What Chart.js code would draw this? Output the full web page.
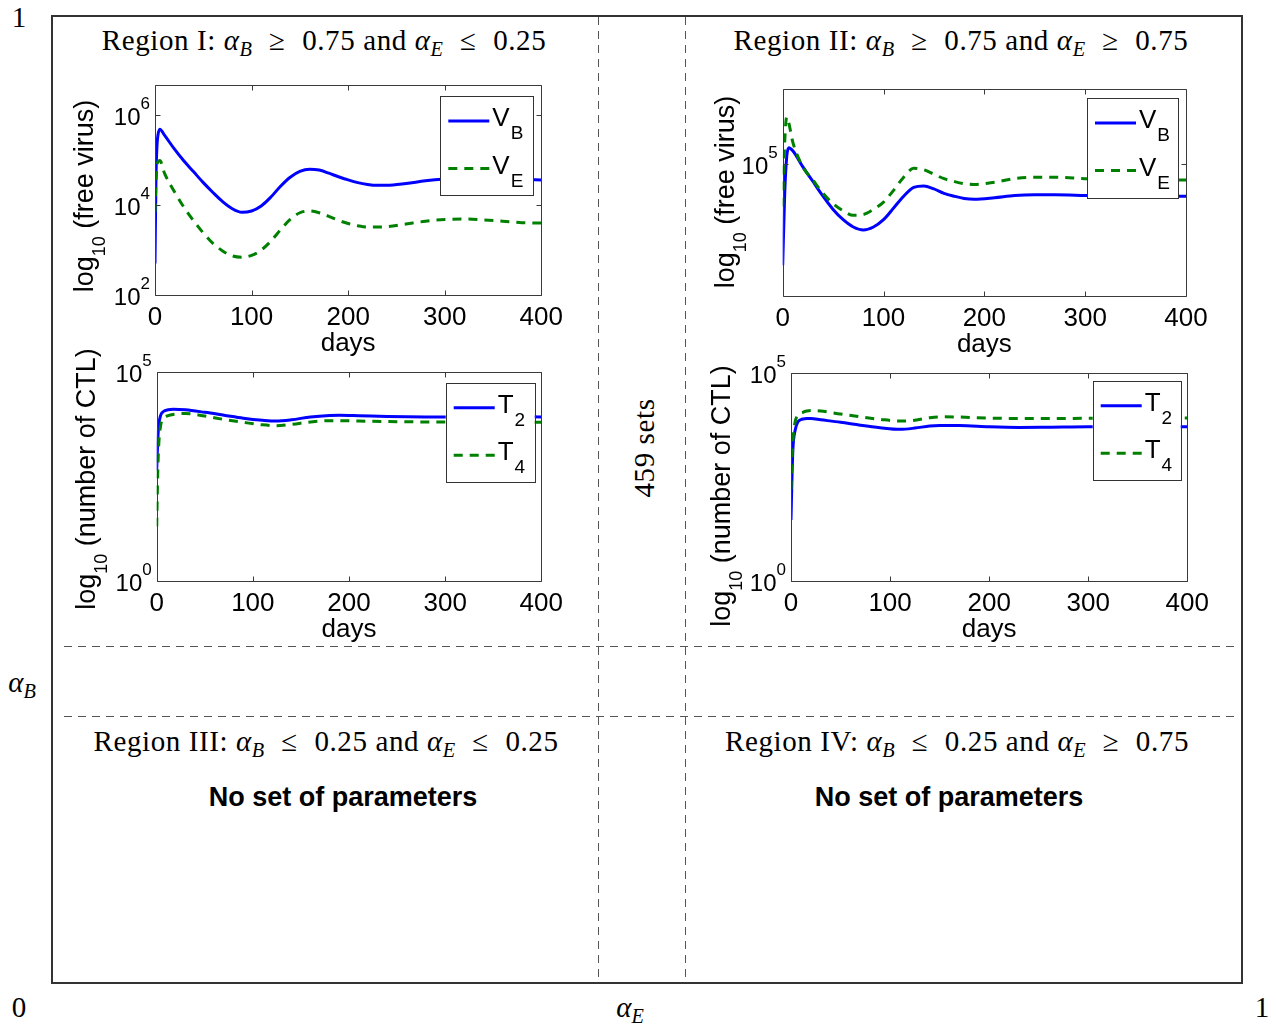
<!DOCTYPE html>
<html>
<head>
<meta charset="utf-8">
<script src="https://cdn.jsdelivr.net/npm/chart.js@4.4.0/dist/chart.umd.min.js"></script>
<style>
body { margin:0; background:#fff; width:1276px; height:1024px; position:relative; overflow:hidden; }
.frame { position:absolute; left:51px; top:15px; width:1192px; height:969px; box-sizing:border-box; border:2px solid #333; }
.vd { position:absolute; top:17px; height:965px; width:1px; background:repeating-linear-gradient(to bottom,#555 0 8px,transparent 8px 14px); }
.hd { position:absolute; left:64px; width:1174px; height:1px; background:repeating-linear-gradient(to right,#555 0 8px,transparent 8px 14px); }
.serif { position:absolute; font-family:"Liberation Serif","DejaVu Serif",serif; font-size:29px; line-height:1; white-space:nowrap; color:#000; transform:translate(-50%,-50%); }
.wide { letter-spacing:0.6px; }
.bold { position:absolute; font-family:"Liberation Sans",Arial,sans-serif; font-weight:bold; font-size:27px; line-height:1; white-space:nowrap; transform:translate(-50%,-50%); }
.serif sub { font-size:0.7em; font-style:italic; vertical-align:-0.3em; line-height:0; }
.rel { margin:0 0.3em; }
canvas { position:absolute; }
</style>
</head>
<body>
<div class="frame"></div>
<div class="vd" style="left:598px"></div>
<div class="vd" style="left:685px"></div>
<div class="hd" style="top:646px"></div>
<div class="hd" style="top:716px"></div>

<div class="serif wide" style="left:324px;top:40px">Region I: <i>α</i><sub>B</sub> <span class="rel">≥</span> 0.75 and <i>α</i><sub>E</sub> <span class="rel">≤</span> 0.25</div>
<div class="serif wide" style="left:961px;top:40px">Region II: <i>α</i><sub>B</sub> <span class="rel">≥</span> 0.75 and <i>α</i><sub>E</sub> <span class="rel">≥</span> 0.75</div>
<div class="serif wide" style="left:326px;top:741px">Region III: <i>α</i><sub>B</sub> <span class="rel">≤</span> 0.25 and <i>α</i><sub>E</sub> <span class="rel">≤</span> 0.25</div>
<div class="serif wide" style="left:957px;top:741px">Region IV: <i>α</i><sub>B</sub> <span class="rel">≤</span> 0.25 and <i>α</i><sub>E</sub> <span class="rel">≥</span> 0.75</div>
<div class="bold" style="left:343px;top:797px">No set of parameters</div>
<div class="bold" style="left:949px;top:797px">No set of parameters</div>
<div class="serif wide" style="left:644px;top:448px;transform:translate(-50%,-50%) rotate(-90deg)">459 sets</div>
<div class="serif" style="left:19px;top:17px">1</div>
<div class="serif" style="left:19px;top:1007px">0</div>
<div class="serif" style="left:1262px;top:1007px">1</div>
<div class="serif" style="left:22px;top:682px"><i>α</i><sub>B</sub></div>
<div class="serif" style="left:630px;top:1007px"><i>α</i><sub>E</sub></div>

<canvas id="c1" width="510" height="280" style="left:60px;top:80px"></canvas>
<canvas id="c2" width="520" height="281" style="left:700px;top:80px"></canvas>
<canvas id="c3" width="510" height="316" style="left:60px;top:330px"></canvas>
<canvas id="c4" width="520" height="316" style="left:700px;top:330px"></canvas>

<script>
// x ticks shared by all panels
var dayTicks = [0, 100, 200, 300, 400];

// Region I, free virus
var days1 = [0, 1, 2, 3, 5, 10, 20, 30, 40, 50, 60, 70, 80, 90, 100, 110, 120, 130, 140, 150, 160, 170, 180, 190, 200, 210, 220, 230, 240, 260, 280, 300, 320, 340, 360, 380, 400];
var vB1 = [500, 39800, 200000, 355000, 490000, 355000, 178000, 95500, 55000, 31600, 19100, 12000, 8320, 6920, 7410, 9550, 15100, 26300, 41700, 56200, 63100, 60300, 51300, 42700, 36300, 31600, 28800, 27500, 27500, 30200, 34700, 38000, 39800, 39800, 38000, 37200, 36300];
var vE1 = [6920, 31600, 70800, 93300, 97700, 50100, 20000, 8910, 4470, 2400, 1410, 955, 741, 692, 759, 1000, 1580, 2820, 4790, 6760, 7410, 6760, 5620, 4570, 3890, 3470, 3240, 3240, 3310, 3800, 4370, 4790, 4900, 4680, 4370, 4070, 3980];

// Region II, free virus
var days2 = [0, 2, 4, 6, 10, 20, 30, 40, 50, 60, 70, 80, 90, 100, 110, 120, 130, 140, 150, 160, 170, 180, 190, 210, 230, 250, 270, 300, 330, 360, 400];
var vB2 = [20400, 63100, 112000, 129000, 123000, 95500, 75900, 60300, 49000, 41700, 37200, 35500, 37200, 41700, 50100, 60300, 69200, 70800, 67600, 63100, 60300, 58200, 57500, 58900, 61000, 61700, 61700, 61000, 60300, 60300, 60300];
var vE2 = [51300, 141000, 209000, 191000, 141000, 95500, 77600, 63100, 53700, 47900, 44700, 45200, 49000, 55000, 66100, 81300, 93300, 91200, 85100, 79400, 75900, 73300, 72400, 75000, 79400, 81300, 81300, 79400, 78500, 77600, 77600];

// Region I, CTL
var days3 = [0, 1, 2, 4, 7, 12, 17, 30, 50, 70, 90, 110, 124, 140, 160, 180, 190, 210, 240, 280, 320, 360, 400];
var t2_3 = [447, 2000, 5010, 8910, 11200, 12300, 12600, 12300, 10700, 9120, 7760, 6920, 6610, 7080, 8320, 9020, 9120, 8910, 8510, 8320, 8320, 8410, 8320];
var t4_3 = [20, 316, 1580, 5010, 7590, 8910, 9550, 10000, 8710, 7240, 6170, 5370, 5130, 5500, 6310, 6760, 6760, 6610, 6460, 6310, 6310, 6170, 6170];

// Region II, CTL
var days4 = [0, 1, 2, 4, 7, 12, 16, 20, 30, 50, 70, 90, 110, 125, 140, 150, 170, 200, 230, 260, 300, 350, 400];
var t2_4 = [29, 316, 1580, 3980, 6610, 7760, 7940, 7940, 7410, 6460, 5500, 4790, 4370, 4680, 5250, 5370, 5370, 5010, 4840, 4900, 5010, 5010, 5010];
var t4_4 = [158, 794, 2510, 6310, 9550, 11200, 12000, 12300, 12000, 10200, 8710, 7590, 6920, 7240, 8320, 8710, 8610, 8130, 7940, 7940, 8040, 8130, 8130];

// y tick exponents (labels 10^n)
var yExp1 = [2, 4, 6];
var yExp2 = [5];
var yExp3 = [0, 5];
var yExp4 = [0, 5];

var FONT = '"Liberation Sans", Arial, sans-serif';

function pts(xs, ys) {
    return xs.map(function (x, i) { return { x: x, y: ys[i] }; });
}

// box, inward ticks, 10^n labels, rotated y title and legend
var matlabAxes = {
    id: 'matlabAxes',
    afterDatasetsDraw: function (chart, args, o) {
        var ctx = chart.ctx, a = chart.chartArea, xs = chart.scales.x, ys = chart.scales.y;
        ctx.save();
        var L = Math.round(a.left) + 0.5, R = Math.round(a.right) + 0.5;
        var T = Math.round(a.top) + 0.5, B = Math.round(a.bottom) + 0.5;
        ctx.strokeStyle = '#3a3a3a';
        ctx.lineWidth = 1;
        ctx.beginPath();
        ctx.rect(L, T, R - L, B - T);
        dayTicks.forEach(function (v) {
            var p = Math.round(xs.getPixelForValue(v)) + 0.5;
            ctx.moveTo(p, B); ctx.lineTo(p, B - 5);
            ctx.moveTo(p, T); ctx.lineTo(p, T + 5);
        });
        o.yExp.forEach(function (e) {
            var p = Math.round(ys.getPixelForValue(Math.pow(10, e))) + 0.5;
            ctx.moveTo(L, p); ctx.lineTo(L + 5, p);
            ctx.moveTo(R, p); ctx.lineTo(R - 5, p);
        });
        ctx.stroke();

        // y tick labels
        ctx.fillStyle = '#000';
        ctx.textAlign = 'right';
        ctx.textBaseline = 'alphabetic';
        o.yExp.forEach(function (e) {
            var p = ys.getPixelForValue(Math.pow(10, e));
            ctx.font = '17px ' + FONT;
            var ew = ctx.measureText(String(e)).width;
            ctx.fillText(String(e), a.left - 5, p - 6);
            ctx.font = '24px ' + FONT;
            ctx.fillText('10', a.left - 5 - ew, p + 10);
        });

        // y title  log_10 (...)
        ctx.save();
        ctx.translate(o.title.x, o.title.y);
        ctx.rotate(-Math.PI / 2);
        ctx.textAlign = 'left';
        ctx.font = '27px ' + FONT;
        var w1 = ctx.measureText('log').width;
        var w3 = ctx.measureText(o.title.text).width;
        ctx.font = '18px ' + FONT;
        var w2 = ctx.measureText('10').width;
        var x0 = -(w1 + w2 + w3) / 2;
        ctx.font = '27px ' + FONT;
        ctx.fillText('log', x0, 0);
        ctx.font = '18px ' + FONT;
        ctx.fillText('10', x0 + w1, 12);
        ctx.font = '27px ' + FONT;
        ctx.fillText(o.title.text, x0 + w1 + w2, 0);
        ctx.restore();

        // legend
        var lg = o.legend;
        var lx = a.right - lg.r - lg.w, ly = a.top + lg.t;
        ctx.fillStyle = '#fff';
        ctx.fillRect(lx, ly, lg.w, lg.h);
        ctx.strokeStyle = '#333';
        ctx.lineWidth = 1;
        ctx.strokeRect(Math.round(lx) + 0.5, Math.round(ly) + 0.5, lg.w, lg.h);
        ctx.textAlign = 'left';
        chart.data.datasets.forEach(function (ds, i) {
            var yy = ly + 25 + i * 47.5;
            ctx.strokeStyle = ds.borderColor;
            ctx.lineWidth = 3;
            ctx.setLineDash(ds.borderDash || []);
            ctx.beginPath();
            ctx.moveTo(lx + 8, yy);
            ctx.lineTo(lx + 49, yy);
            ctx.stroke();
            ctx.setLineDash([]);
            ctx.fillStyle = '#000';
            ctx.font = '26px ' + FONT;
            ctx.fillText(o.names[i][0], lx + 52, ly + 30 + i * 47.5);
            var mw = ctx.measureText(o.names[i][0]).width;
            ctx.font = '19px ' + FONT;
            ctx.fillText(o.names[i][1], lx + 53 + mw, ly + 43 + i * 47.5);
        });
        ctx.restore();
    }
};

function makeChart(id, cfg) {
    var ctx = document.getElementById(id).getContext('2d');
    return new Chart(ctx, {
        type: 'line',
        data: {
            datasets: [{
                label: cfg.names[0].join('_'),
                data: pts(cfg.days, cfg.s1),
                borderColor: '#0000ff',
                borderWidth: 3,
                pointRadius: 0,
                cubicInterpolationMode: 'monotone',
                order: 1
            },
            {
                label: cfg.names[1].join('_'),
                data: pts(cfg.days, cfg.s2),
                borderColor: '#008000',
                borderWidth: 3,
                borderDash: [9, 7],
                pointRadius: 0,
                cubicInterpolationMode: 'monotone',
                order: 0
            }]
        },
        options: {
            responsive: false,
            animation: false,
            events: [],
            layout: { padding: cfg.pad },
            plugins: {
                legend: { display: false },
                tooltip: { enabled: false },
                matlabAxes: { yExp: cfg.yExp, title: cfg.title, legend: cfg.legend, names: cfg.names }
            },
            scales: {
                x: {
                    type: 'linear',
                    min: 0,
                    max: 400,
                    afterBuildTicks: function (s) { s.ticks = dayTicks.map(function (v) { return { value: v }; }); },
                    ticks: { font: { family: FONT, size: 26 }, color: '#000', padding: 7, maxRotation: 0 },
                    grid: { display: false, drawTicks: false },
                    border: { display: false },
                    title: { display: true, text: 'days', color: '#000', font: { family: FONT, size: 26 }, padding: { top: 0, bottom: 1 } },
                    afterFit: function (s) { s.height = 65; }
                },
                y: {
                    type: 'logarithmic',
                    min: cfg.yMin,
                    max: cfg.yMax,
                    ticks: { display: false },
                    grid: { display: false, drawTicks: false },
                    border: { display: false },
                    afterFit: function (s) { s.width = 0; }
                }
            }
        },
        plugins: [matlabAxes]
    });
}

makeChart('c1', {
    days: days1, s1: vB1, s2: vE1, yMin: 100, yMax: 4.7e6, yExp: yExp1,
    names: [['V', 'B'], ['V', 'E']],
    pad: { left: 95, top: 5, right: 25, bottom: 0 },
    title: { x: 33, y: 116, text: ' (free virus)' },
    legend: { r: 8, t: 11, w: 93, h: 99 }
});
makeChart('c2', {
    days: days2, s1: vB2, s2: vE2, yMin: 12600, yMax: 324000, yExp: yExp2,
    names: [['V', 'B'], ['V', 'E']],
    pad: { left: 82.7, top: 9, right: 34, bottom: 0 },
    title: { x: 34, y: 112, text: ' (free virus)' },
    legend: { r: 8, t: 9, w: 91, h: 100 }
});
makeChart('c3', {
    days: days3, s1: t2_3, s2: t4_3, yMin: 1, yMax: 1e5, yExp: yExp3,
    names: [['T', '2'], ['T', '4']],
    pad: { left: 96.7, top: 41.7, right: 27.7, bottom: 0 },
    title: { x: 35, y: 149, text: ' (number of CTL)' },
    legend: { r: 6.6, t: 11, w: 89, h: 99 }
});
makeChart('c4', {
    days: days4, s1: t2_4, s2: t4_4, yMin: 1, yMax: 1e5, yExp: yExp4,
    names: [['T', '2'], ['T', '4']],
    pad: { left: 91, top: 42.7, right: 32.7, bottom: 0 },
    title: { x: 30, y: 166, text: ' (number of CTL)' },
    legend: { r: 6.6, t: 8, w: 88, h: 99 }
});
</script>
</body>
</html>
